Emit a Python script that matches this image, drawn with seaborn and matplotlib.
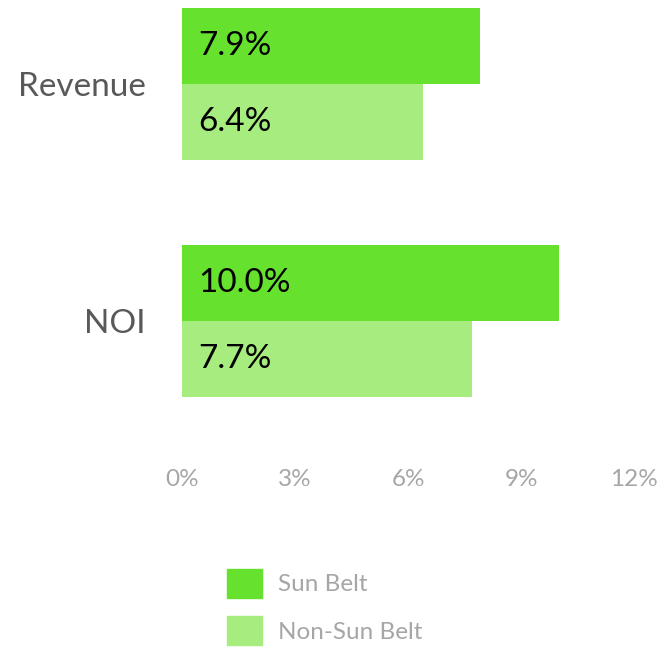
import pandas as pd
import seaborn as sns
import matplotlib.pyplot as plt

# data
metrics = ["Revenue", "NOI"]
sun_belt = [7.9, 10.0]
non_sun_belt = [6.4, 7.7]
series = ["Sun Belt", "Non-Sun Belt"]
x_ticks = [0, 3, 6, 9, 12]

df = pd.DataFrame({
    "metric": metrics * 2,
    "growth": sun_belt + non_sun_belt,
    "region": [series[0]] * len(metrics) + [series[1]] * len(metrics),
})

sns.set_style("white")
plt.rcParams["font.family"] = ["Lato", "DejaVu Sans"]

fig = plt.figure(figsize=(6.64, 6.51), dpi=100)
ax = fig.add_axes([182 / 664, 1 - 451 / 651, (634 - 182) / 664, 450 / 651])

sns.barplot(data=df, x="growth", y="metric", hue="region", orient="h",
            palette=["#66E22E", "#A6EC7E"], width=0.64, saturation=1,
            linewidth=0, ax=ax, legend=False)

# value labels inside the bars, left aligned
for cont in ax.containers:
    for bar, v in zip(cont, cont.datavalues):
        ax.annotate(f"{v:.1f}%", (bar.get_x(), bar.get_y() + bar.get_height() / 2),
                    xytext=(12, 0), textcoords="offset points",
                    ha="left", va="center", fontsize=24, color="black")

ax.set_xlim(0, 12)
ax.set_ylim(1.55, -0.35)
ax.set_xticks(x_ticks)
ax.set_xticklabels([f"{t}%" for t in x_ticks])
ax.tick_params(axis="x", labelsize=17.5, labelcolor="#A6A6A6", length=0, pad=13)
ax.tick_params(axis="y", labelsize=24, labelcolor="#595959", length=0, pad=26)
ax.set_xlabel("")
ax.set_ylabel("")
sns.despine(ax=ax, left=True, bottom=True)

handles = [plt.Rectangle((0, 0), 1, 1, color=c) for c in ["#66E22E", "#A6EC7E"]]
leg = fig.legend(handles, series, loc="upper left", bbox_to_anchor=(227 / 664, 1 - 569 / 651),
                 frameon=False, fontsize=17.5, handlelength=1.45, handleheight=1.45,
                 handletextpad=0.65, labelspacing=0.75, borderpad=0, borderaxespad=0)
for t in leg.get_texts():
    t.set_color("#A6A6A6")

fig.savefig("out.png", dpi=100)
